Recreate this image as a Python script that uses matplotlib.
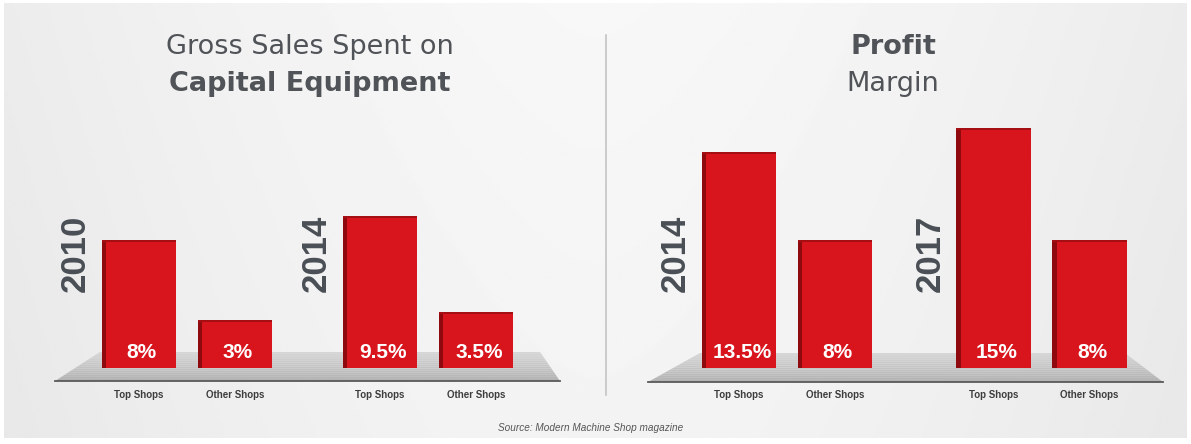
import numpy as np
import matplotlib
matplotlib.use("Agg")
import matplotlib.pyplot as plt
from matplotlib.patches import Polygon

# ---------------- data ----------------
categories = ["Top Shops", "Other Shops"]
left_years = ["2010", "2014"]
left_values = [[8, 3], [9.5, 3.5]]
right_years = ["2014", "2017"]
right_values = [[13.5, 8], [15, 8]]
left_title = ("Gross Sales Spent on", "Capital Equipment")
right_title = ("Profit", "Margin")
source = "Source: Modern Machine Shop magazine"

W, H = 1191, 444
fig = plt.figure(figsize=(W / 100, H / 100), dpi=100)
fig.patch.set_facecolor("white")


def fx(px):
    return px / W


def fy(py):
    return 1 - py / H


# ---------------- background ----------------
bg = fig.add_axes([fx(4), fy(438), fx(1187) - fx(4), fy(3) - fy(438)])
bg.set_axis_off()
xx = np.linspace(-1, 1, 400)
yy = np.linspace(0, 1, 200)
X, Y = np.meshgrid(xx, yy)
Z = 0.91 + 0.045 * (1 - np.abs(X) ** 1.6) + 0.015 * Y
bg.imshow(Z, cmap="gray", vmin=0, vmax=1, aspect="auto", extent=[0, 1, 0, 1],
          interpolation="bilinear", origin="lower")
bg.set_xlim(0, 1)
bg.set_ylim(0, 1)

# divider
fig.add_artist(plt.Line2D([fx(606), fx(606)], [fy(35), fy(395)],
                          color="#c4c4c4", lw=1.2, transform=fig.transFigure))

RED = "#d8141d"
DARK_RED = "#8e0a0e"
TXT = "#4a4f55"
TITLE_C = "#505357"

ZERO_PX = 368.0     # pixel row of value 0
SCALE = 16.0        # px per unit
AX_TOP, AX_BOT = 100, 400


def floor_poly(ax, pts):
    top_y = pts[1][1]
    bot_y = pts[0][1]
    n = 14
    for i in range(n):
        t0 = i / n
        t1 = (i + 1) / n
        y0 = top_y + (bot_y - top_y) * t0
        y1 = top_y + (bot_y - top_y) * t1
        xl0 = pts[1][0] + (pts[0][0] - pts[1][0]) * t0
        xl1 = pts[1][0] + (pts[0][0] - pts[1][0]) * t1
        xr0 = pts[2][0] + (pts[3][0] - pts[2][0]) * t0
        xr1 = pts[2][0] + (pts[3][0] - pts[2][0]) * t1
        c = 0.85 - 0.15 * t1
        p = Polygon([(fx(xl0), fy(y0)), (fx(xr0), fy(y0)), (fx(xr1), fy(y1)), (fx(xl1), fy(y1))],
                    closed=True, facecolor=(c, c, c), edgecolor="none",
                    transform=fig.transFigure, zorder=1, clip_on=False)
        ax.add_patch(p)
    ax.add_line(plt.Line2D([fx(pts[0][0]), fx(pts[3][0])], [fy(bot_y), fy(bot_y)],
                           color="#5a5a5a", lw=1.3, transform=fig.transFigure,
                           zorder=1.5, clip_on=False))


def panel(px_left, px_right, x0_px, gap, years, values, floor_pts, title, title_bold_first,
          title_x):
    ax = fig.add_axes([fx(px_left), fy(AX_BOT), fx(px_right) - fx(px_left),
                       fy(AX_TOP) - fy(AX_BOT)])
    ax.set_axis_off()
    ax.set_facecolor("none")
    unit = 96.0
    ax.set_xlim((px_left - x0_px) / unit, (px_right - x0_px) / unit)
    ax.set_ylim(-(AX_BOT - ZERO_PX) / SCALE, (ZERO_PX - AX_TOP) / SCALE)

    floor_poly(ax, floor_pts)

    width = 0.78
    side = 0.05
    for g, (yr, vals) in enumerate(zip(years, values)):
        xs = np.array([g * gap, g * gap + 1.0])
        ax.bar(xs - width / 2 + side / 2, vals, width=side, color=DARK_RED,
               zorder=3, linewidth=0)
        ax.bar(xs + side / 2, vals, width=width - side, color=RED, zorder=3,
               linewidth=0)
        ax.bar(xs, [0.15] * 2, bottom=np.array(vals) - 0.15, width=width,
               color="#a50f14", zorder=3.5, linewidth=0)
        for x, v in zip(xs, vals):
            ax.text(x + 0.03, 1.0, f"{v:g}%", ha="center", va="center", color="white",
                    fontsize=15, fontweight="bold", family="Liberation Sans", zorder=5)
        for x, c in zip(xs, categories):
            ax.text(x, -(395 - ZERO_PX) / SCALE, c, ha="center", va="center",
                    color="#3d3d3d", fontsize=7, fontweight="bold",
                    family="Liberation Sans", zorder=5)
        ax.text(xs[0] - 0.66, -(292 - ZERO_PX) / SCALE, yr, rotation=90,
                ha="center", va="bottom", color=TXT, fontsize=25, fontweight="bold",
                family="Liberation Sans", zorder=5)
    l1, l2 = title
    w1 = "bold" if title_bold_first else "normal"
    w2 = "normal" if title_bold_first else "bold"
    fig.text(fx(title_x), fy(47), l1, ha="center", va="center", fontsize=19.5,
             fontweight=w1, color=TITLE_C, family="DejaVu Sans")
    fig.text(fx(title_x), fy(84), l2, ha="center", va="center", fontsize=19.5,
             fontweight=w2, color=TITLE_C, family="DejaVu Sans")
    return ax


panel(40, 580, 139, 2.51, left_years, left_values,
      [(55, 381), (100, 352), (540, 352), (560, 381)], left_title, False, 310)
panel(620, 1180, 739, 2.65, right_years, right_values,
      [(648, 382), (700, 353), (1125, 353), (1163, 382)], right_title, True, 893)

fig.text(fx(591), fy(428), source, ha="center", va="center", fontsize=7.2,
         style="italic", color="#555555", family="Liberation Sans")

fig.savefig("out.png", dpi=100, facecolor=fig.get_facecolor())
